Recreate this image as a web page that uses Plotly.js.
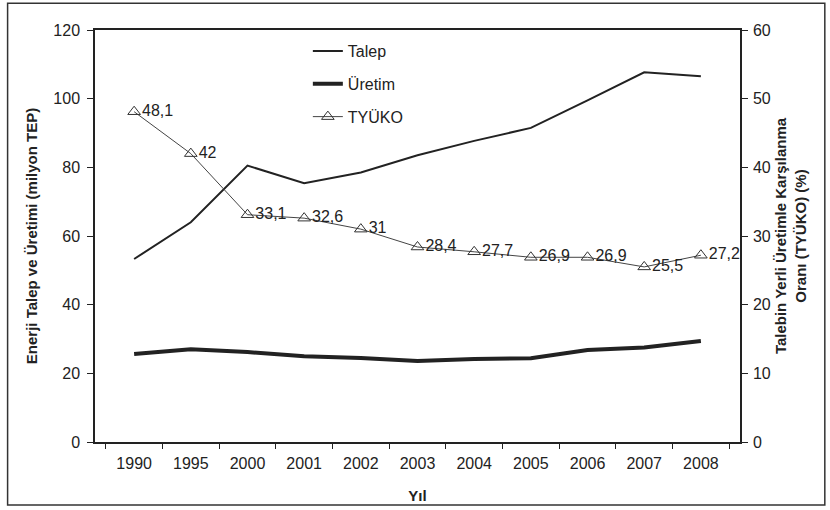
<!DOCTYPE html>
<html><head><meta charset="utf-8">
<script src="https://cdn.plot.ly/plotly-3.0.1.min.js"></script>
<style>body{margin:0;background:#fff}#c{width:830px;height:510px}</style>
</head><body><div id="c"></div>
<script>
const years = ['1990','1995','2000','2001','2002','2003','2004','2005','2006','2007','2008'];
const talep = [53.3, 64, 80.5, 75.4, 78.5, 83.5, 87.7, 91.5, 99.5, 107.7, 106.5];
const uretim = [25.6, 27, 26.2, 25, 24.5, 23.6, 24.2, 24.4, 26.8, 27.5, 29.4];
const tyuko = [48.1, 42, 33.1, 32.6, 31, 28.4, 27.7, 26.9, 26.9, 25.5, 27.2];
const tyukoLabels = ['48,1','42','33,1','32,6','31','28,4','27,7','26,9','26,9','25,5','27,2'];

const fam = 'Liberation Sans, Arial, sans-serif';
const font = {family:fam, size:16, color:'#222'};
const traces = [
 {x:years, y:talep, name:'Talep', legendgroup:'a', type:'scatter', mode:'lines', line:{color:'#222', width:2}},
 {x:years, y:uretim, name:'Üretim', legendgroup:'b', type:'scatter', mode:'lines', line:{color:'#222', width:4}},
 {x:years, y:tyuko, name:'TYÜKO', legendgroup:'c', type:'scatter', mode:'lines+markers+text', yaxis:'y2',
  text:tyukoLabels, textposition:'middle right', textfont:{family:fam, size:16, color:'#222'},
  line:{color:'#444', width:1}, marker:{symbol:'triangle-up-open', size:11, color:'#333', line:{width:1}}}
];
const layout = {
 width:830, height:510, margin:{l:95, r:90, t:30, b:68},
 paper_bgcolor:'#fff', plot_bgcolor:'#fff', font:font, showlegend:true,
 legend:{x:0.33, y:0.99, xanchor:'left', yanchor:'top', bgcolor:'rgba(0,0,0,0)', font:{size:16}, tracegroupgap:9, itemwidth:30},
 xaxis:{type:'category', tickson:'boundaries', ticks:'outside', ticklen:5, tickcolor:'#222', showline:true, linecolor:'#222', linewidth:1.5, mirror:true, showgrid:false,
   ticklabelstandoff:6, title:{text:'<b>Yıl</b>', font:{size:15}, standoff:20}, tickfont:{size:16}},
 yaxis:{range:[0,120], dtick:20, ticks:'outside', ticklen:6, tickcolor:'#222', showline:true, linecolor:'#222', linewidth:1.5, showgrid:false, zeroline:false,
   ticklabelstandoff:4, title:{text:'<b>Enerji Talep ve Üretimi (milyon TEP)</b>', font:{size:15}, standoff:12}, tickfont:{size:16}},
 yaxis2:{range:[0,60], dtick:10, overlaying:'y', side:'right', ticks:'outside', ticklen:6, tickcolor:'#222', showline:true, linecolor:'#222', linewidth:1.5, showgrid:false, zeroline:false,
   ticklabelstandoff:2, title:{text:'<b>Talebin Yerli Üretimle Karşılanma<br>Oranı (TYÜKO) (%)</b>', font:{size:15}, standoff:6}, tickfont:{size:16}},
 shapes:[{type:'rect', xref:'paper', yref:'paper', x0:-0.1355, x1:1.1315, y0:-0.153, y1:1.065, line:{color:'#333', width:1.5}, fillcolor:'rgba(0,0,0,0)', layer:'below'}]
};
Plotly.newPlot('c', traces, layout, {displayModeBar:false});
</script></body></html>
